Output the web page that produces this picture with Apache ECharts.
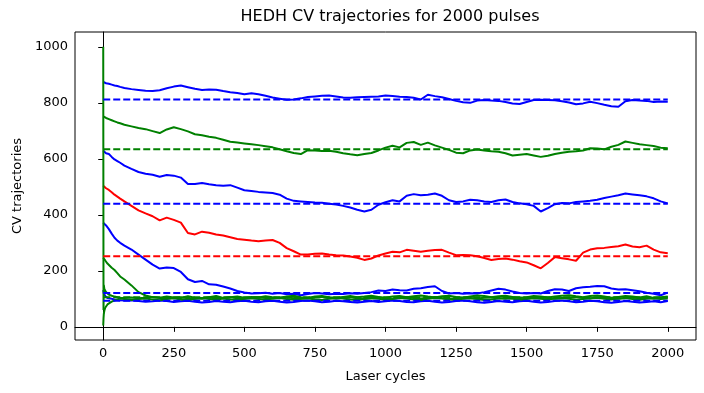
<!DOCTYPE html>
<html>
<head>
<meta charset="utf-8">
<script src="https://cdn.jsdelivr.net/npm/echarts@6/dist/echarts.min.js"></script>
<style>html,body{margin:0;padding:0;background:#fff}#c{width:704px;height:393px}</style>
</head>
<body>
<div id="c"></div>
<script>
// Sample cycles (x) shared by every trajectory
const cycles = [0, 1, 2, 4, 7, 10, 15, 20, 30, 40, 50, 60, 75,
  100, 125, 150, 175, 200, 225, 250, 275, 300, 325, 350, 375, 400, 425, 450, 475, 500, 525, 550, 575,
  600, 625, 650, 675, 700, 725, 750, 775, 800, 825, 850, 875, 900, 925, 950, 975, 1000, 1025, 1050, 1075,
  1100, 1125, 1150, 1175, 1200, 1225, 1250, 1275, 1300, 1325, 1350, 1375, 1400, 1425, 1450, 1475, 1500, 1525, 1550, 1575,
  1600, 1625, 1650, 1675, 1700, 1725, 1750, 1775, 1800, 1825, 1850, 1875, 1900, 1925, 1950, 1975, 2000];

const blueA = [875, 874, 873, 872, 871, 870, 869, 868, 865, 862, 860, 857, 853,
  849, 846, 843, 842, 845, 852, 858, 862, 856, 850, 846, 848, 847, 842, 838, 835, 831, 834, 831, 825,
  819, 815, 811, 812, 816, 821, 823, 825, 826, 823, 819, 818, 820, 821, 822, 823, 826, 824, 822, 821,
  818, 812, 829, 824, 820, 814, 807, 802, 800, 808, 810, 808, 807, 803, 798, 796, 803, 810, 811, 810,
  809, 806, 801, 795, 798, 804, 799, 793, 788, 786, 806, 810, 808, 807, 803, 805, 804];

const greenA = [752, 750, 749, 748, 747, 746, 744, 742, 738, 734, 730, 727, 722,
  716, 710, 706, 699, 692, 705, 713, 706, 698, 688, 684, 679, 675, 668, 661, 658, 655, 652, 649, 645,
  641, 634, 627, 621, 617, 631, 630, 628, 629, 625, 620, 616, 613, 617, 621, 630, 640, 647, 641, 657,
  660, 650, 658, 648, 640, 632, 622, 620, 630, 633, 630, 627, 625, 620, 612, 615, 617, 612, 607, 611,
  617, 622, 625, 627, 630, 638, 637, 634, 643, 650, 662, 657, 652, 649, 646, 640, 638];

const blueB = [629, 627, 625, 624, 622, 620, 619, 617, 607, 598, 592, 586, 576,
  564, 553, 547, 543, 536, 542, 540, 533, 510, 510, 514, 509, 506, 504, 506, 497, 488, 485, 482, 480,
  478, 472, 458, 450, 448, 446, 444, 443, 440, 437, 432, 426, 418, 412, 418, 436, 445, 452, 448, 468,
  474, 470, 472, 476, 468, 452, 446, 448, 454, 452, 448, 446, 452, 455, 446, 441, 438, 432, 412, 424,
  438, 442, 441, 446, 448, 450, 454, 460, 465, 470, 476, 473, 470, 466, 459, 448, 441];

const red = [504, 503, 502, 500, 498, 495, 492, 489, 481, 472, 465, 458, 448,
  432, 416, 405, 395, 380, 390, 382, 372, 335, 330, 340, 336, 330, 326, 320, 314, 311, 308, 306, 308,
  310, 300, 281, 270, 258, 258, 261, 262, 258, 256, 255, 251, 247, 239, 244, 255, 262, 268, 266, 275,
  272, 268, 272, 274, 275, 265, 256, 257, 256, 252, 246, 239, 242, 244, 240, 234, 230, 220, 209, 228,
  249, 245, 241, 236, 265, 276, 281, 282, 285, 288, 294, 287, 284, 290, 276, 266, 263];

const blueC = [372, 371, 370, 369, 367, 362, 355, 349, 333, 318, 308, 300, 290,
  276, 258, 240, 222, 208, 212, 210, 196, 170, 160, 164, 152, 150, 144, 137, 128, 123, 119, 120, 122,
  118, 121, 116, 118, 113, 117, 121, 119, 116, 118, 117, 120, 118, 121, 124, 130, 128, 133, 131, 130,
  136, 138, 142, 145, 128, 119, 121, 118, 120, 119, 124, 130, 136, 133, 126, 121, 119, 121, 119, 128,
  134, 133, 128, 138, 141, 143, 146, 145, 137, 133, 134, 131, 127, 122, 118, 113, 122];

const greenB = [246, 245, 243, 240, 237, 233, 226, 220, 211, 203, 192, 180, 169,
  148, 124, 112, 106, 104, 108, 105, 103, 109, 104, 100, 106, 110, 103, 106, 108, 104, 107, 105, 109,
  106, 104, 108, 111, 106, 103, 108, 110, 106, 104, 107, 110, 106, 108, 111, 107, 104, 108, 110, 106,
  109, 112, 108, 105, 109, 111, 107, 104, 108, 112, 110, 106, 109, 111, 107, 103, 106, 110, 108, 105,
  108, 111, 113, 109, 106, 110, 112, 108, 104, 107, 110, 108, 105, 109, 103, 106, 108];

const blueD = [131, 125, 120, 114, 110, 106, 103, 101, 100, 98, 96, 95, 94,
  95, 92, 90, 91, 94, 92, 89, 91, 93, 90, 87, 89, 92, 90, 88, 91, 93, 90, 88, 91,
  93, 90, 87, 89, 92, 94, 91, 88, 90, 93, 91, 89, 87, 90, 92, 89, 91, 94, 92, 89,
  88, 91, 93, 90, 87, 89, 92, 94, 91, 88, 86, 89, 92, 90, 88, 91, 93, 90, 87, 89,
  92, 94, 91, 88, 90, 93, 91, 88, 86, 89, 92, 90, 87, 89, 91, 88, 92];

const greenC = [5, 30, 45, 58, 68, 74, 80, 84, 90, 94, 98, 101, 99,
  96, 99, 101, 98, 95, 99, 102, 98, 96, 100, 103, 99, 97, 101, 98, 96, 100, 102, 99, 97,
  101, 103, 99, 97, 100, 102, 98, 96, 100, 103, 101, 98, 96, 99, 102, 100, 97, 99, 103, 101,
  98, 96, 100, 103, 101, 98, 97, 100, 102, 99, 96, 98, 101, 103, 100, 97, 99, 102, 100, 98,
  101, 103, 100, 97, 99, 102, 104, 100, 98, 101, 103, 99, 97, 100, 102, 99, 101];

const greenD = [1000, 60, 150, 135, 128, 124, 119, 115, 111, 108, 106, 104, 103,
  105, 102, 104, 107, 103, 101, 104, 106, 102, 100, 103, 105, 101, 103, 106, 102, 100, 104, 106, 103,
  101, 104, 106, 102, 100, 103, 105, 107, 103, 101, 104, 106, 102, 100, 103, 105, 102, 100, 104, 106,
  103, 101, 104, 107, 103, 100, 102, 105, 103, 101, 104, 106, 102, 100, 103, 105, 102, 104, 106, 103,
  100, 102, 105, 107, 103, 101, 104, 106, 102, 100, 103, 105, 102, 104, 101, 103, 105];

// Dashed reference levels
const refLevels = [812, 634, 440, 252, 121, 106, 93];
const refColors = ['#0000ff', '#008000', '#0000ff', '#ff0000', '#0000ff', '#008000', '#0000ff'];

const xTicks = [0, 250, 500, 750, 1000, 1250, 1500, 1750, 2000];
const yTicks = [0, 200, 400, 600, 800, 1000];

const trajectories = [
  { data: blueA, color: '#0000ff' },
  { data: greenA, color: '#008000' },
  { data: blueB, color: '#0000ff' },
  { data: red, color: '#ff0000' },
  { data: blueC, color: '#0000ff' },
  { data: greenB, color: '#008000' },
  { data: blueD, color: '#0000ff' },
  { data: greenC, color: '#008000' },
  { data: greenD, color: '#008000' }
];

const FONT = 'DejaVu Sans';
const series = [];
trajectories.forEach(t => {
  series.push({
    type: 'line', showSymbol: false, silent: true, animation: false,
    data: t.data.map((v, i) => [cycles[i], v]),
    lineStyle: { color: t.color, width: 2 },
    itemStyle: { color: t.color }
  });
});
refLevels.forEach((lv, i) => {
  series.push({
    type: 'line', showSymbol: false, silent: true, animation: false,
    data: [[cycles[0], lv], [cycles[cycles.length - 1], lv]],
    lineStyle: { color: refColors[i], width: 2, type: [7, 3] },
    itemStyle: { color: refColors[i] }
  });
});

const plain = v => String(v);
const chart = echarts.init(document.getElementById('c'), null, { renderer: 'canvas' });
chart.setOption({
  animation: false,
  backgroundColor: '#fff',
  title: {
    text: 'HEDH CV trajectories for 2000 pulses',
    left: 385, top: 4, textAlign: 'center',
    textStyle: { fontFamily: FONT, fontSize: 16, fontWeight: 'normal', color: '#000' }
  },
  grid: { left: 75, right: 8, top: 32, bottom: 53, show: true, borderColor: '#000', borderWidth: 1, backgroundColor: 'transparent' },
  xAxis: {
    type: 'value', min: -100, max: 2100,
    name: 'Laser cycles', nameLocation: 'middle', nameGap: 30,
    nameTextStyle: { fontFamily: FONT, fontSize: 13, color: '#000' },
    axisLine: { show: true, lineStyle: { color: '#000', width: 1 } },
    axisTick: { show: true, customValues: xTicks, length: 5, lineStyle: { color: '#000' } },
    axisLabel: { customValues: xTicks, formatter: plain, fontFamily: FONT, fontSize: 13, color: '#000', margin: 7 },
    splitLine: { show: false }
  },
  yAxis: {
    type: 'value', min: -47, max: 1053,
    name: 'CV trajectories', nameLocation: 'middle', nameGap: 48, nameRotate: 90,
    nameTextStyle: { fontFamily: FONT, fontSize: 13, color: '#000' },
    axisLine: { show: true, lineStyle: { color: '#000', width: 1 } },
    axisTick: { show: true, customValues: yTicks, length: 5, lineStyle: { color: '#000' } },
    axisLabel: { customValues: yTicks, formatter: plain, fontFamily: FONT, fontSize: 13, color: '#000', margin: 7 },
    splitLine: { show: false }
  },
  series: series
});
</script>
</body>
</html>
